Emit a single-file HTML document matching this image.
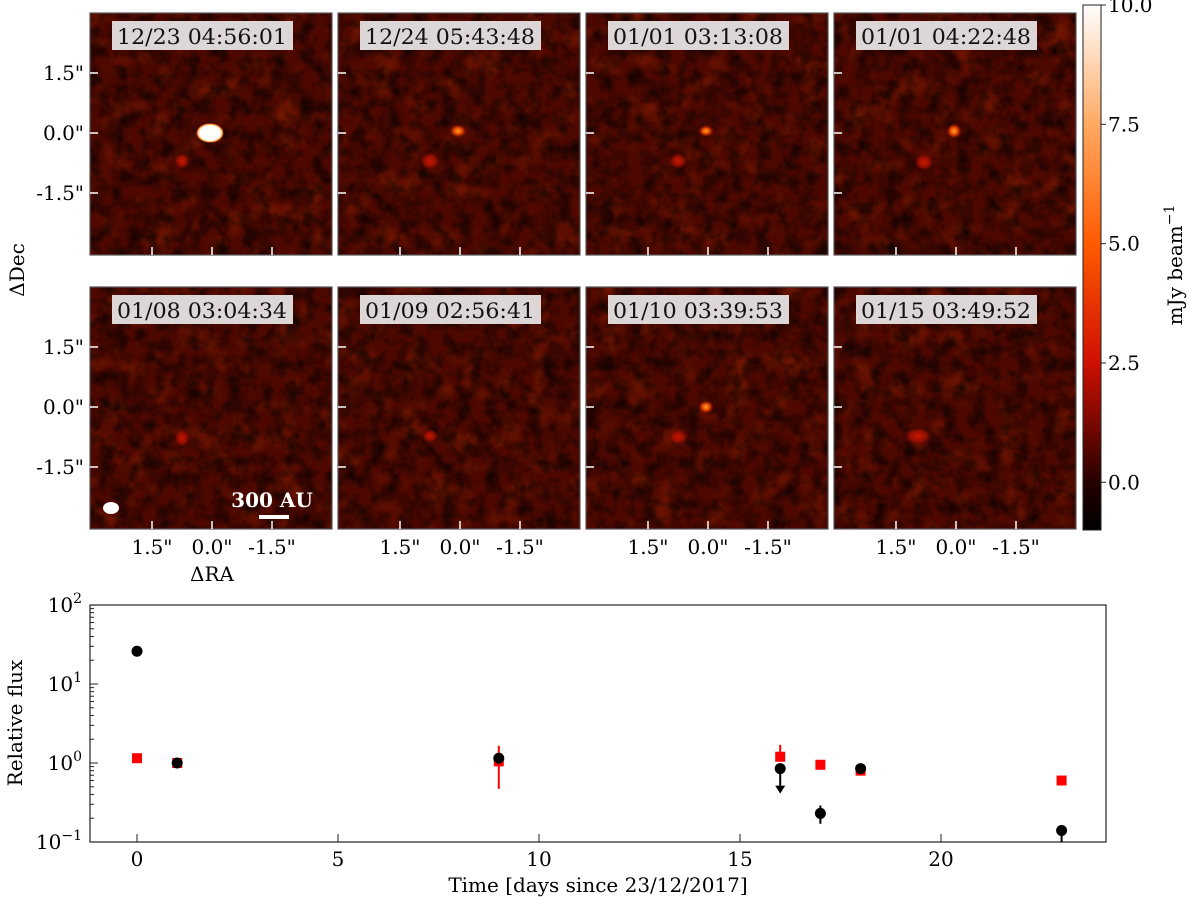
<!DOCTYPE html>
<html><head><meta charset="utf-8">
<style>
body{margin:0;background:#fff;}
svg text{font-family:"DejaVu Serif","Liberation Serif",serif;}
</style></head>
<body>
<svg id="fig" width="1200" height="903" viewBox="0 0 1200 903" xmlns="http://www.w3.org/2000/svg">
<defs>
<linearGradient id="cmap" x1="0" y1="1" x2="0" y2="0">
<stop offset="0" stop-color="#000"/>
<stop offset="0.09" stop-color="#250000"/>
<stop offset="0.32" stop-color="#d01000"/>
<stop offset="0.545" stop-color="#ff5a00"/>
<stop offset="0.77" stop-color="#ffa860"/>
<stop offset="1" stop-color="#fff"/>
</linearGradient>
<filter id="noise" x="0" y="0" width="100%" height="100%">
<feTurbulence type="fractalNoise" baseFrequency="0.07" numOctaves="3" seed="3"/>
<feColorMatrix values="0 0 0 0 0  0 0 0 0 0  0 0 0 0 0  1.4 0 0 0 -0.5"/>
</filter>
<filter id="noise2" x="0" y="0" width="100%" height="100%">
<feTurbulence type="fractalNoise" baseFrequency="0.04" numOctaves="2" seed="11"/>
<feColorMatrix values="0 0 0 0 0.45  0 0 0 0 0.03  0 0 0 0 0  1.0 0 0 0 -0.5"/>
</filter>
<radialGradient id="blobW"><stop offset="0" stop-color="#fff"/><stop offset="0.75" stop-color="#fff"/><stop offset="0.9" stop-color="#ff9020"/><stop offset="1" stop-color="#8a1000" stop-opacity="0"/></radialGradient>
<radialGradient id="blobO"><stop offset="0" stop-color="#ffa020"/><stop offset="0.5" stop-color="#e04000"/><stop offset="1" stop-color="#700800" stop-opacity="0"/></radialGradient>
<radialGradient id="blobR"><stop offset="0" stop-color="#c81800"/><stop offset="0.6" stop-color="#900e00"/><stop offset="1" stop-color="#600800" stop-opacity="0"/></radialGradient>
</defs>
<g id="panels"></g>
<g id="colorbar">
<rect x="1083" y="5" width="18" height="525" fill="url(#cmap)" stroke="#222" stroke-width="1"/>
</g>
<g id="lc"></g>
</svg>
<script>
// ---- light-curve data ----
const timesBlack = [0, 1, 9, 16, 17, 18, 23];
const fluxBlack = [26, 1.0, 1.15, 0.85, 0.23, 0.85, 0.14];
const errLoBlack = [0, 0.05, 0.15, 0, 0.06, 0.05, 0.04];
const errHiBlack = [0, 0.05, 0.15, 0, 0.06, 0.05, 0.02];
const upperLimitBlack = [false, false, false, true, false, false, false];
const timesRed = [0, 1, 9, 16, 17, 18, 23];
const fluxRed = [1.15, 1.0, 1.05, 1.2, 0.95, 0.8, 0.6];
const errLoRed = [0.08, 0.05, 0.58, 0.1, 0.05, 0.05, 0.03];
const errHiRed = [0.08, 0.05, 0.6, 0.5, 0.05, 0.05, 0.03];
const xTicks = [0, 5, 10, 15, 20];
const yDecades = [-1, 0, 1, 2];
const panelLabels = ["12/23 04:56:01","12/24 05:43:48","01/01 03:13:08","01/01 04:22:48","01/08 03:04:34","01/09 02:56:41","01/10 03:39:53","01/15 03:49:52"];
const cbTicks = [0.0, 2.5, 5.0, 7.5, 10.0];

const NS="http://www.w3.org/2000/svg";
function mk(tag, attrs, parent, txt){const e=document.createElementNS(NS,tag);for(const k in attrs)e.setAttribute(k,attrs[k]);if(txt!==undefined)e.textContent=txt;parent.appendChild(e);return e;}

// ---- panels ----
const P=document.getElementById('panels');
const pX=[90,338,586,834], pY=[13,287], pW=242, pH=242;
const blobs=[
 [[210,133,14,10,'blobW'],[182,161,8,8,'blobR']],
 [[458,131,9,7,'blobO'],[430,161,10,9,'blobR']],
 [[706,131,8,6,'blobO'],[678,161,9,8,'blobR']],
 [[954,131,8,8,'blobO'],[924,162,10,9,'blobR']],
 [[182,438,8,9,'blobR']],
 [[430,436,8,7,'blobR']],
 [[706,407,8,7,'blobO'],[678,437,10,8,'blobR']],
 [[918,436,14,9,'blobR']]
];
panelLabels.forEach((lab,i)=>{
 const r=Math.floor(i/4), c=i%4, x=pX[c], y=pY[r];
 const g=mk('g',{},P);
 
 
 mk('rect',{x:x,y:y,width:pW,height:pH,fill:'#4e0800'},g);
 mk('rect',{x:x,y:y,width:pW,height:pH,filter:'url(#noise2)'},g);
 mk('rect',{x:x,y:y,width:pW,height:pH,filter:'url(#noise)'},g);
 blobs[i].forEach(b=>mk('ellipse',{cx:b[0],cy:b[1],rx:b[2],ry:b[3],fill:'url(#'+b[4]+')'},g));
 mk('rect',{x:x,y:y,width:pW,height:pH,fill:'none',stroke:'#555','stroke-width':1.2},g);
 mk('rect',{x:x+22,y:y+8,width:181,height:29,fill:'#dcd6d6'},g);
 const t=mk('text',{x:x+112,y:y+31,'font-size':21,'text-anchor':'middle',fill:'#111',textLength:170,lengthAdjust:'spacingAndGlyphs'},g,lab);
 
 
 [60,120,180].forEach(dy=>mk('line',{x1:x,x2:x+8,y1:y+dy,y2:y+dy,stroke:'#fff','stroke-width':1.5},g));
 [62,122,182].forEach(dx=>mk('line',{x1:x+dx,x2:x+dx,y1:y+pH,y2:y+pH-8,stroke:'#fff','stroke-width':1.5},g));
 if(c===0){
  ['1.5\"','0.0\"','-1.5\"'].forEach((s,k)=>mk('text',{x:x-6,y:y+60+k*60+7,'font-size':20,'text-anchor':'end'},P,s));
 }
 if(r===1){
  ['1.5\"','0.0\"','-1.5\"'].forEach((s,k)=>mk('text',{x:x+62+k*60,y:y+pH+25,'font-size':20,'text-anchor':'middle'},P,s));
 }
});
mk('ellipse',{cx:111,cy:508,rx:8,ry:6,fill:'#fff'},P);
mk('text',{x:272,y:507,'font-size':20,'font-weight':'bold','text-anchor':'middle',fill:'#fff'},P,'300 AU');
mk('rect',{x:259,y:515,width:30,height:4,fill:'#fff'},P);
const ral=mk('text',{x:212,y:581,'font-size':20,'text-anchor':'middle'},P,'ΔRA');

const decl=mk('text',{x:24,y:270,'font-size':20,'text-anchor':'middle',transform:'rotate(-90 24 270)'},P,'ΔDec');


// ---- colorbar ticks ----
const CB=document.getElementById('colorbar');
const cbY=v=>530-(v+1)/11*525;
cbTicks.forEach(v=>{
 mk('line',{x1:1101,x2:1106,y1:cbY(v),y2:cbY(v),stroke:'#222'},CB);
 mk('text',{x:1108,y:cbY(v)+7,'font-size':20},CB,v.toFixed(1));
});
const cbl=mk('text',{x:1182,y:265,'font-size':20,'text-anchor':'middle',transform:'rotate(-90 1182 265)'},CB);
cbl.innerHTML='mJy beam<tspan dy="-8" font-size="14">−1</tspan>';


// ---- light curve ----
const L=document.getElementById('lc');
const ax={l:90,r:1106,t:605,b:842};
const xs=t=>137+t*40.2;
const ys=v=>ax.b-(Math.log10(v)+1)*79;
mk('rect',{x:ax.l,y:ax.t,width:ax.r-ax.l,height:ax.b-ax.t,fill:'none',stroke:'#222','stroke-width':1.2},L);
xTicks.forEach(t=>{
 mk('line',{x1:xs(t),x2:xs(t),y1:ax.b,y2:ax.b-8,stroke:'#222'},L);
 mk('text',{x:xs(t),y:ax.b+24,'font-size':20,'text-anchor':'middle'},L,t);
});
yDecades.forEach(d=>{
 const y=ys(Math.pow(10,d));
 mk('line',{x1:ax.l,x2:ax.l+8,y1:y,y2:y,stroke:'#222'},L);
 const tx=mk('text',{x:ax.l-8,y:y+7,'font-size':20,'text-anchor':'end'},L);
 tx.innerHTML='10<tspan dy="-9" font-size="14">'+(d<0?'−'+(-d):d)+'</tspan>';
 if(d<2)for(let m=2;m<10;m++){const ym=ys(m*Math.pow(10,d));mk('line',{x1:ax.l,x2:ax.l+4,y1:ym,y2:ym,stroke:'#222'},L);}
});
const xl=mk('text',{x:598,y:892,'font-size':20,'text-anchor':'middle'},L,'Time [days since 23/12/2017]');

const yl=mk('text',{x:22,y:723,'font-size':20,'text-anchor':'middle',transform:'rotate(-90 22 723)'},L,'Relative flux');

timesRed.forEach((t,i)=>{
 const x=xs(t);
 mk('line',{x1:x,x2:x,y1:ys(fluxRed[i]+errHiRed[i]),y2:ys(Math.max(fluxRed[i]-errLoRed[i],0.1)),stroke:'#f00','stroke-width':2},L);
 const m=mk('rect',{x:x-5,y:ys(fluxRed[i])-5,width:10,height:10,fill:'#f00'},L);
 
 
});
timesBlack.forEach((t,i)=>{
 const x=xs(t), y=ys(fluxBlack[i]);
 if(upperLimitBlack[i]){
  mk('line',{x1:x,x2:x,y1:y,y2:y+22,stroke:'#000','stroke-width':2},L);
  mk('path',{d:`M${x-5} ${y+17} L${x+5} ${y+17} L${x} ${y+25}Z`,fill:'#000'},L);
 } else if(errHiBlack[i]>0){
  mk('line',{x1:x,x2:x,y1:ys(fluxBlack[i]+errHiBlack[i]),y2:ys(Math.max(fluxBlack[i]-errLoBlack[i],0.1)),stroke:'#000','stroke-width':2},L);
 }
 const m=mk('circle',{cx:x,cy:y,r:5.5,fill:'#000'},L);
 
 
});
</script>
</body></html>
